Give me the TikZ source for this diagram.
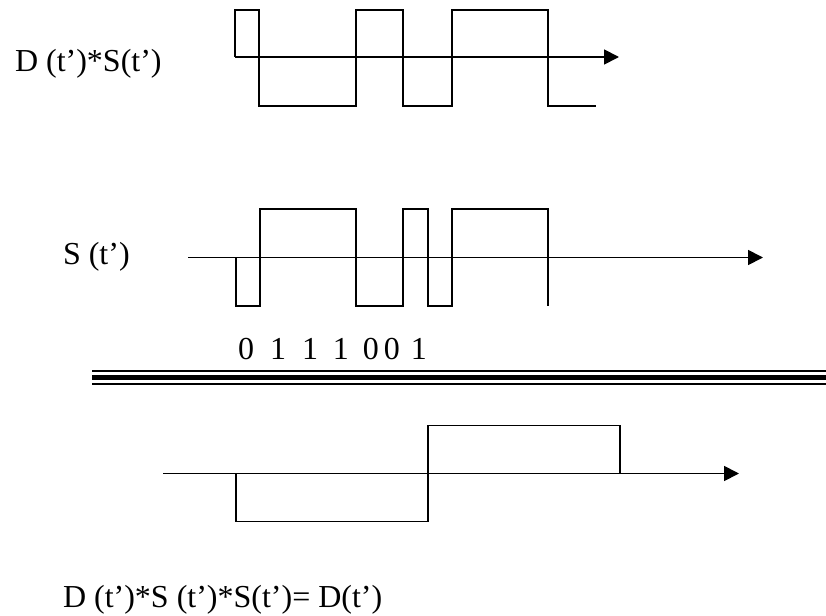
\documentclass[tikz,border=0pt]{standalone}
\usepackage{fontspec}
\setmainfont{Liberation Serif}
\usetikzlibrary{arrows.meta}
\begin{document}
\begin{tikzpicture}[x=1bp,y=-1bp,
  wave/.style={line width=1.8bp, line join=miter},
  axisline/.style={line width=1.8bp, -{Triangle[length=15bp,width=15bp]}},
  lbl/.style={anchor=base west, inner sep=0pt, outer sep=0pt, font=\fontsize{32bp}{38bp}\selectfont}]
\useasboundingbox (0,0) rectangle (826,616);

% labels
\node[lbl] (lblDS) at (15,72) {D (t’)*S(t’)};
\node[lbl] (lblS) at (63,264) {S (t’)};
\node[lbl] (bits) at (238,359) {0 \hspace{8bp}1 \hspace{8bp}1 \hspace{7bp}1 \hspace{6bp}0\hspace{-3bp} 0 \hspace{3bp}1};
\node[lbl] (lblRes) at (63,607) {D (t’)*S (t’)*S(t’)= D(t’)};

% top waveform D*S
\coordinate (a0) at (235,57);
\coordinate (a1) at (619,57);
\draw[axisline] (a0) -- (a1);
\draw[wave] (235,57) -- (235,10) -- (259,10) -- (259,106) -- (356,106) -- (356,10)
  -- (403,10) -- (403,106) -- (452,106) -- (452,10) -- (548,10) -- (548,106) -- (596,106);

% middle waveform S
\coordinate (b0) at (188,257.5);
\coordinate (b1) at (763,257.5);
\draw[axisline] (b0) -- (b1);
\draw[wave] (236,257.5) -- (236,306) -- (260,306) -- (260,209) -- (356,209) -- (356,306)
  -- (403,306) -- (403,209) -- (428,209) -- (428,306) -- (452,306) -- (452,209)
  -- (548,209) -- (548,306);

% triple separator line
\draw[line width=2.5bp] (92,371) -- (826,371);
\draw[line width=5.5bp] (92,377.5) -- (826,377.5);
\draw[line width=2.5bp] (92,384) -- (826,384);

% bottom waveform D
\coordinate (c0) at (163,473.5);
\coordinate (c1) at (739,473.5);
\draw[axisline] (c0) -- (c1);
\draw[wave] (236,473.5) -- (236,521.5) -- (428,521.5) -- (428,425.5) -- (620,425.5) -- (620,473.5);
\end{tikzpicture}
\end{document}
